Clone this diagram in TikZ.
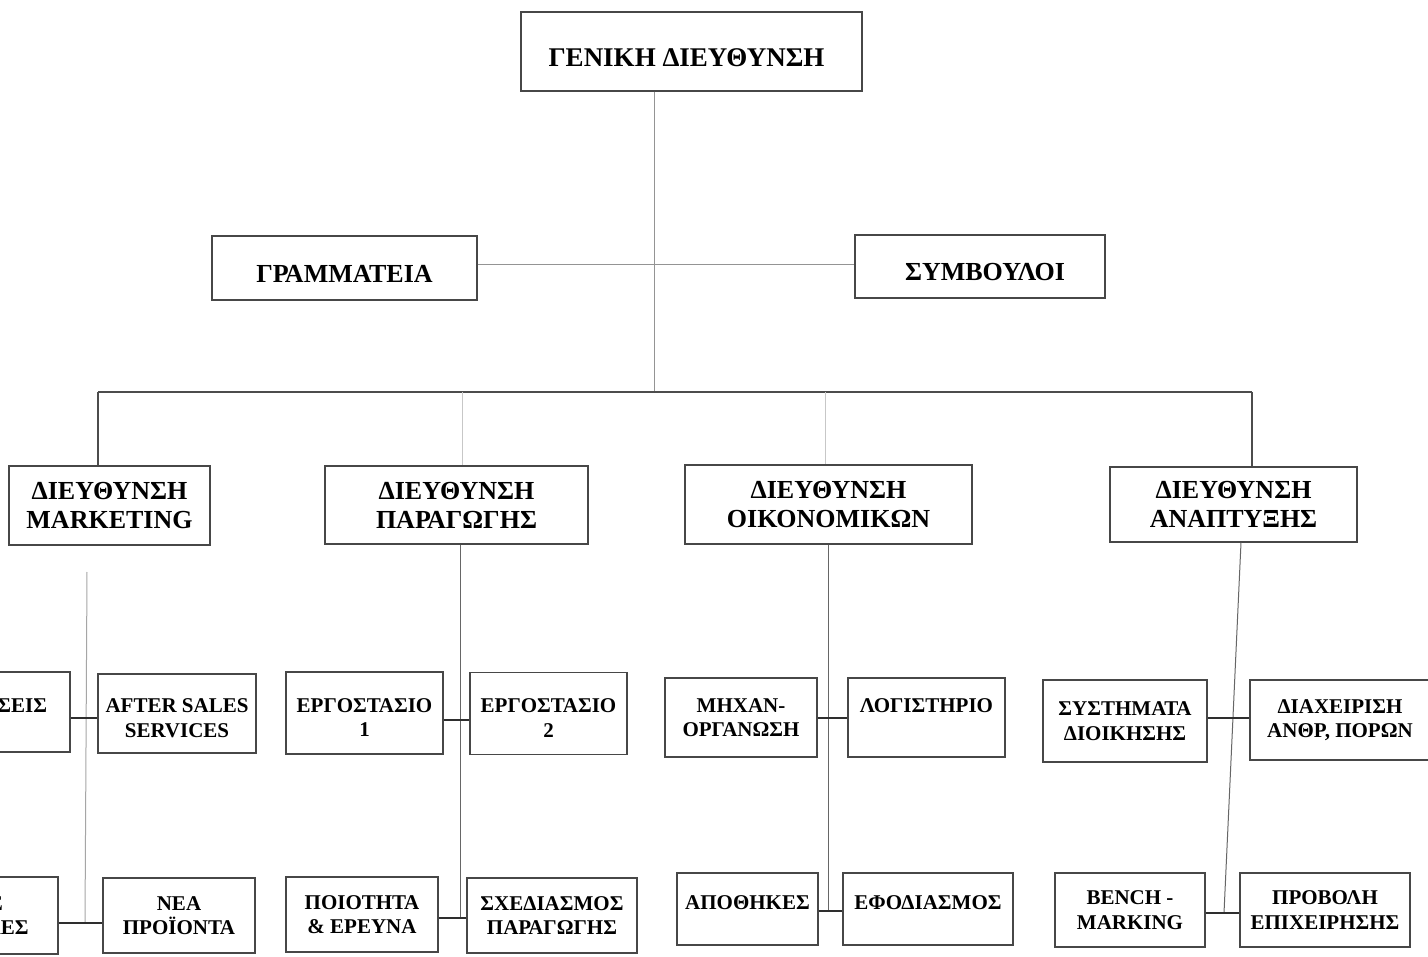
\documentclass[tikz,border=0pt]{standalone}
\usepackage{fontspec}
\setmainfont{Liberation Serif}
\newcommand{\liftline}{\rule{0pt}{23pt}}
\begin{document}
\begin{tikzpicture}[x=1pt,y=-1pt,
  box/.style={draw=black!72, line width=1.2pt, inner sep=0pt, align=center, text=black},
  headbox/.style={box, font=\fontsize{27}{32}\selectfont\bfseries, execute at begin node=\rule{0pt}{30pt}},
  staffbox/.style={box, font=\fontsize{26}{30}\selectfont\bfseries, execute at begin node=\rule{0pt}{29pt}},
  dirbox/.style={box, font=\fontsize{26}{29}\selectfont\bfseries},
  unitbox/.style={box, font=\fontsize{21}{24.5}\selectfont\bfseries},
  bus/.style={draw=black!70, line width=1.3pt},
  faint/.style={draw=black!22, line width=0.8pt},
  link/.style={draw=black!42, line width=0.9pt},
  spine/.style={draw=black!60, line width=1pt},
  lightspine/.style={draw=black!35, line width=1pt},
  stub/.style={draw=black!82, line width=2.2pt}]

\useasboundingbox (0,0) rectangle (1428,957);
\fill[white] (0,0) rectangle (1428,957);
\clip (0,0) rectangle (1428,957);

% management and staff
\node[headbox, minimum width=341pt, minimum height=79pt] (gd) at (691.5,51.5) {ΓΕΝΙΚΗ ΔΙΕΥΘΥΝΣΗ\hspace*{10pt}};
\node[staffbox, minimum width=265pt, minimum height=64pt] (gram) at (344.5,268) {ΓΡΑΜΜΑΤΕΙΑ};
\node[staffbox, minimum width=250pt, minimum height=63pt] (symv) at (980,266.5) {\hspace*{10pt}ΣΥΜΒΟΥΛΟΙ};

% directorates
\node[dirbox, minimum width=201pt, minimum height=79pt] (mkt) at (109.5,505.5) {ΔΙΕΥΘΥΝΣΗ\\MARKETING};
\node[dirbox, minimum width=263pt, minimum height=78pt] (par) at (456.5,505) {ΔΙΕΥΘΥΝΣΗ\\ΠΑΡΑΓΩΓΗΣ};
\node[dirbox, minimum width=287pt, minimum height=79pt] (oik) at (828.5,504.5) {ΔΙΕΥΘΥΝΣΗ\\ΟΙΚΟΝΟΜΙΚΩΝ};
\node[dirbox, minimum width=247pt, minimum height=75pt] (anp) at (1233.5,504.5) {ΔΙΕΥΘΥΝΣΗ\\ΑΝΑΠΤΥΞΗΣ};

% departments, first row
\node[unitbox, minimum width=160pt, minimum height=80pt] (pol) at (-10,712) {ΠΩΛΗΣΕΙΣ\\[-12pt]\mbox{}};
\node[unitbox, minimum width=158pt, minimum height=79pt] (as) at (177,713.5) {\liftline AFTER SALES\\SERVICES};
\node[unitbox, minimum width=157pt, minimum height=82pt] (er1) at (364.5,713) {\liftline ΕΡΓΟΣΤΑΣΙΟ\\1};
\node[unitbox, minimum width=157pt, minimum height=82pt] (er2) at (548.5,713.5) {\liftline ΕΡΓΟΣΤΑΣΙΟ\\2};
\node[unitbox, minimum width=152pt, minimum height=79pt] (mix) at (741,717.5) {ΜΗΧΑΝ-\\ΟΡΓΑΝΩΣΗ};
\node[unitbox, minimum width=157pt, minimum height=79pt] (log) at (926.5,717.5) {ΛΟΓΙΣΤΗΡΙΟ\\\mbox{}};
\node[unitbox, minimum width=164pt, minimum height=82pt] (sys) at (1125,721) {ΣΥΣΤΗΜΑΤΑ\\ΔΙΟΙΚΗΣΗΣ};
\node[unitbox, minimum width=180pt, minimum height=80pt] (dia) at (1340,720) {ΔΙΑΧΕΙΡΙΣΗ\\ΑΝΘΡ, ΠΟΡΩΝ};

% departments, second row
\node[unitbox, minimum width=220pt, minimum height=77pt] (lb) at (-52,915.5) {ΕΚΘΕΣΕΙΣ\\ΠΡΟΩΘΗΤΙΚΕΣ};
\node[unitbox, minimum width=152pt, minimum height=75pt] (nea) at (179,915.5) {ΝΕΑ\\ΠΡΟΪΟΝΤΑ};
\node[unitbox, minimum width=152pt, minimum height=75pt] (poi) at (362,914.5) {ΠΟΙΟΤΗΤΑ\\\& ΕΡΕΥΝΑ};
\node[unitbox, minimum width=170pt, minimum height=75pt] (sxe) at (552,915.5) {ΣΧΕΔΙΑΣΜΟΣ\\ΠΑΡΑΓΩΓΗΣ};
\node[unitbox, minimum width=141pt, minimum height=72pt] (apo) at (747.5,909) {ΑΠΟΘΗΚΕΣ\\[-12pt]\mbox{}};
\node[unitbox, minimum width=170pt, minimum height=72pt] (efo) at (928,909) {ΕΦΟΔΙΑΣΜΟΣ\\[-12pt]\mbox{}};
\node[unitbox, minimum width=150pt, minimum height=74pt] (ben) at (1130,910) {BENCH -\\MARKING};
\node[unitbox, minimum width=170pt, minimum height=74pt] (pro) at (1325,910) {ΠΡΟΒΟΛΗ\\ΕΠΙΧΕΙΡΗΣΗΣ};

% junction points
\coordinate (hub) at (654,392);
\coordinate (side) at (654,264);
\coordinate (busW) at (98,392);
\coordinate (busE) at (1252,392);
\coordinate (dropP) at (462,392);
\coordinate (dropO) at (825,392);

% upper links
\draw[link] (gd.south -| hub) -- (hub);
\draw[link] (gram.east |- side) -- (symv.west |- side);
\draw[bus] (busW) -- (busE);
\draw[bus] (busW) -- (mkt.north -| busW);
\draw[bus] (busE) -- (anp.north -| busE);
\draw[faint] (dropP) -- (par.north -| dropP);
\draw[faint] (dropO) -- (oik.north -| dropO);

% marketing
\coordinate (mkTop) at (87,572);
\coordinate (mkA) at (86,718);
\coordinate (mkB) at (85,923);
\draw[lightspine] (mkTop) -- (mkB);
\draw[stub] (pol.east |- mkA) -- (as.west |- mkA);
\draw[stub] (lb.east |- mkB) -- (nea.west |- mkB);

% production
\coordinate (pA) at (460,720);
\coordinate (pB) at (460,918);
\draw[spine] (par.south -| pA) -- (pB);
\draw[stub] (er1.east |- pA) -- (er2.west |- pA);
\draw[stub] (poi.east |- pB) -- (sxe.west |- pB);

% finance
\coordinate (oA) at (828,718);
\coordinate (oB) at (828,911);
\draw[spine] (oik.south -| oA) -- (oB);
\draw[stub] (mix.east |- oA) -- (log.west |- oA);
\draw[stub] (apo.east |- oB) -- (efo.west |- oB);

% development
\coordinate (aTop) at (1241,542);
\coordinate (aA) at (1233,718);
\coordinate (aB) at (1224,913);
\draw[spine] (anp.south -| aTop) -- (aB);
\draw[stub] (sys.east |- aA) -- (dia.west |- aA);
\draw[stub] (ben.east |- aB) -- (pro.west |- aB);
\end{tikzpicture}
\end{document}
